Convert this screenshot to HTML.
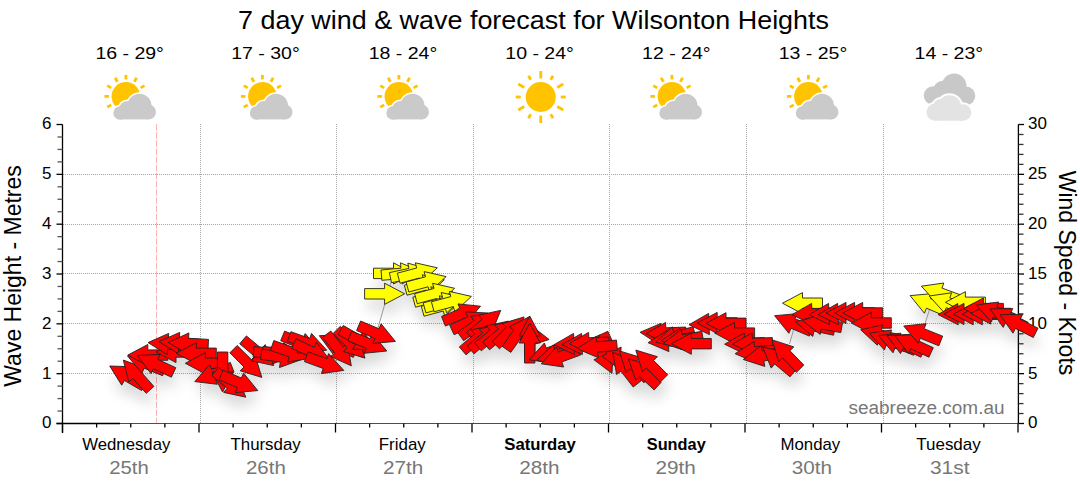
<!DOCTYPE html><html><head><meta charset="utf-8"><style>html,body{margin:0;padding:0;background:#fff;width:1080px;height:490px;overflow:hidden}svg{display:block}text{font-family:'Liberation Sans', sans-serif}</style></head><body>
<svg width="1080" height="490" viewBox="0 0 1080 490">
<defs><filter id="sh" x="-50%" y="-50%" width="200%" height="200%"><feGaussianBlur stdDeviation="7"/></filter></defs>
<text x="238" y="29" font-size="26" textLength="591" lengthAdjust="spacingAndGlyphs" fill="#000">7 day wind &amp; wave forecast for Wilsonton Heights</text>
<text x="129.65" y="59" font-size="16" text-anchor="middle" textLength="68.5" lengthAdjust="spacingAndGlyphs" fill="#000">16 - 29°</text>
<circle cx="125.9" cy="96.4" r="14.3" fill="#ffc300"/><line x1="125.90" y1="79.40" x2="125.90" y2="74.90" stroke="#ffc300" stroke-width="2.8"/><line x1="117.40" y1="81.68" x2="115.15" y2="77.78" stroke="#ffc300" stroke-width="2.8"/><line x1="134.40" y1="81.68" x2="136.65" y2="77.78" stroke="#ffc300" stroke-width="2.8"/><line x1="111.18" y1="87.90" x2="107.28" y2="85.65" stroke="#ffc300" stroke-width="2.8"/><line x1="140.62" y1="87.90" x2="144.52" y2="85.65" stroke="#ffc300" stroke-width="2.8"/><line x1="108.90" y1="96.40" x2="104.40" y2="96.40" stroke="#ffc300" stroke-width="2.8"/><line x1="111.18" y1="104.90" x2="107.28" y2="107.15" stroke="#ffc300" stroke-width="2.8"/>
<g fill="#fff" stroke="#fff" stroke-width="3"><circle cx="120.0" cy="113.0" r="6.7"/><circle cx="127.5" cy="109.4" r="8.5"/><circle cx="139.5" cy="105.7" r="12"/><circle cx="148.5" cy="112.0" r="7.5"/><rect x="120.0" y="109.0" width="28.5" height="10.400000000000006"/></g><g fill="#cacaca"><circle cx="120.0" cy="113.0" r="6.7"/><circle cx="127.5" cy="109.4" r="8.5"/><circle cx="139.5" cy="105.7" r="12"/><circle cx="148.5" cy="112.0" r="7.5"/><rect x="120.0" y="109.0" width="28.5" height="10.400000000000006"/></g>
<text x="265.5" y="59" font-size="16" text-anchor="middle" textLength="68.5" lengthAdjust="spacingAndGlyphs" fill="#000">17 - 30°</text>
<circle cx="262.4" cy="96.4" r="14.3" fill="#ffc300"/><line x1="262.40" y1="79.40" x2="262.40" y2="74.90" stroke="#ffc300" stroke-width="2.8"/><line x1="253.90" y1="81.68" x2="251.65" y2="77.78" stroke="#ffc300" stroke-width="2.8"/><line x1="270.90" y1="81.68" x2="273.15" y2="77.78" stroke="#ffc300" stroke-width="2.8"/><line x1="247.68" y1="87.90" x2="243.78" y2="85.65" stroke="#ffc300" stroke-width="2.8"/><line x1="277.12" y1="87.90" x2="281.02" y2="85.65" stroke="#ffc300" stroke-width="2.8"/><line x1="245.40" y1="96.40" x2="240.90" y2="96.40" stroke="#ffc300" stroke-width="2.8"/><line x1="247.68" y1="104.90" x2="243.78" y2="107.15" stroke="#ffc300" stroke-width="2.8"/>
<g fill="#fff" stroke="#fff" stroke-width="3"><circle cx="256.5" cy="113.0" r="6.7"/><circle cx="264.0" cy="109.4" r="8.5"/><circle cx="276.0" cy="105.7" r="12"/><circle cx="285.0" cy="112.0" r="7.5"/><rect x="256.5" y="109.0" width="28.5" height="10.400000000000006"/></g><g fill="#cacaca"><circle cx="256.5" cy="113.0" r="6.7"/><circle cx="264.0" cy="109.4" r="8.5"/><circle cx="276.0" cy="105.7" r="12"/><circle cx="285.0" cy="112.0" r="7.5"/><rect x="256.5" y="109.0" width="28.5" height="10.400000000000006"/></g>
<text x="403.0" y="59" font-size="16" text-anchor="middle" textLength="68.5" lengthAdjust="spacingAndGlyphs" fill="#000">18 - 24°</text>
<circle cx="398.9" cy="96.4" r="14.3" fill="#ffc300"/><line x1="398.90" y1="79.40" x2="398.90" y2="74.90" stroke="#ffc300" stroke-width="2.8"/><line x1="390.40" y1="81.68" x2="388.15" y2="77.78" stroke="#ffc300" stroke-width="2.8"/><line x1="407.40" y1="81.68" x2="409.65" y2="77.78" stroke="#ffc300" stroke-width="2.8"/><line x1="384.18" y1="87.90" x2="380.28" y2="85.65" stroke="#ffc300" stroke-width="2.8"/><line x1="413.62" y1="87.90" x2="417.52" y2="85.65" stroke="#ffc300" stroke-width="2.8"/><line x1="381.90" y1="96.40" x2="377.40" y2="96.40" stroke="#ffc300" stroke-width="2.8"/><line x1="384.18" y1="104.90" x2="380.28" y2="107.15" stroke="#ffc300" stroke-width="2.8"/>
<g fill="#fff" stroke="#fff" stroke-width="3"><circle cx="393.0" cy="113.0" r="6.7"/><circle cx="400.5" cy="109.4" r="8.5"/><circle cx="412.5" cy="105.7" r="12"/><circle cx="421.5" cy="112.0" r="7.5"/><rect x="393.0" y="109.0" width="28.5" height="10.400000000000006"/></g><g fill="#cacaca"><circle cx="393.0" cy="113.0" r="6.7"/><circle cx="400.5" cy="109.4" r="8.5"/><circle cx="412.5" cy="105.7" r="12"/><circle cx="421.5" cy="112.0" r="7.5"/><rect x="393.0" y="109.0" width="28.5" height="10.400000000000006"/></g>
<text x="539.5999999999999" y="59" font-size="16" text-anchor="middle" textLength="68.5" lengthAdjust="spacingAndGlyphs" fill="#000">10 - 24°</text>
<circle cx="540.75" cy="97" r="15" fill="#ffc300"/><line x1="560.75" y1="97.00" x2="565.75" y2="97.00" stroke="#ffc300" stroke-width="2.8"/><line x1="557.20" y1="87.50" x2="563.27" y2="84.00" stroke="#ffc300" stroke-width="2.8"/><line x1="550.75" y1="79.68" x2="553.00" y2="75.78" stroke="#ffc300" stroke-width="2.8"/><line x1="540.75" y1="78.50" x2="540.75" y2="71.00" stroke="#ffc300" stroke-width="2.8"/><line x1="530.75" y1="79.68" x2="528.50" y2="75.78" stroke="#ffc300" stroke-width="2.8"/><line x1="524.30" y1="87.50" x2="518.23" y2="84.00" stroke="#ffc300" stroke-width="2.8"/><line x1="520.75" y1="97.00" x2="515.75" y2="97.00" stroke="#ffc300" stroke-width="2.8"/><line x1="524.30" y1="106.50" x2="518.23" y2="110.00" stroke="#ffc300" stroke-width="2.8"/><line x1="530.75" y1="114.32" x2="528.50" y2="118.22" stroke="#ffc300" stroke-width="2.8"/><line x1="540.75" y1="115.50" x2="540.75" y2="123.00" stroke="#ffc300" stroke-width="2.8"/><line x1="550.75" y1="114.32" x2="553.00" y2="118.22" stroke="#ffc300" stroke-width="2.8"/><line x1="557.20" y1="106.50" x2="563.27" y2="110.00" stroke="#ffc300" stroke-width="2.8"/>
<text x="676.3" y="59" font-size="16" text-anchor="middle" textLength="68.5" lengthAdjust="spacingAndGlyphs" fill="#000">12 - 24°</text>
<circle cx="671.9" cy="96.4" r="14.3" fill="#ffc300"/><line x1="671.90" y1="79.40" x2="671.90" y2="74.90" stroke="#ffc300" stroke-width="2.8"/><line x1="663.40" y1="81.68" x2="661.15" y2="77.78" stroke="#ffc300" stroke-width="2.8"/><line x1="680.40" y1="81.68" x2="682.65" y2="77.78" stroke="#ffc300" stroke-width="2.8"/><line x1="657.18" y1="87.90" x2="653.28" y2="85.65" stroke="#ffc300" stroke-width="2.8"/><line x1="686.62" y1="87.90" x2="690.52" y2="85.65" stroke="#ffc300" stroke-width="2.8"/><line x1="654.90" y1="96.40" x2="650.40" y2="96.40" stroke="#ffc300" stroke-width="2.8"/><line x1="657.18" y1="104.90" x2="653.28" y2="107.15" stroke="#ffc300" stroke-width="2.8"/>
<g fill="#fff" stroke="#fff" stroke-width="3"><circle cx="666.0" cy="113.0" r="6.7"/><circle cx="673.5" cy="109.4" r="8.5"/><circle cx="685.5" cy="105.7" r="12"/><circle cx="694.5" cy="112.0" r="7.5"/><rect x="666.0" y="109.0" width="28.5" height="10.400000000000006"/></g><g fill="#cacaca"><circle cx="666.0" cy="113.0" r="6.7"/><circle cx="673.5" cy="109.4" r="8.5"/><circle cx="685.5" cy="105.7" r="12"/><circle cx="694.5" cy="112.0" r="7.5"/><rect x="666.0" y="109.0" width="28.5" height="10.400000000000006"/></g>
<text x="813.0" y="59" font-size="16" text-anchor="middle" textLength="68.5" lengthAdjust="spacingAndGlyphs" fill="#000">13 - 25°</text>
<circle cx="808.4" cy="96.4" r="14.3" fill="#ffc300"/><line x1="808.40" y1="79.40" x2="808.40" y2="74.90" stroke="#ffc300" stroke-width="2.8"/><line x1="799.90" y1="81.68" x2="797.65" y2="77.78" stroke="#ffc300" stroke-width="2.8"/><line x1="816.90" y1="81.68" x2="819.15" y2="77.78" stroke="#ffc300" stroke-width="2.8"/><line x1="793.68" y1="87.90" x2="789.78" y2="85.65" stroke="#ffc300" stroke-width="2.8"/><line x1="823.12" y1="87.90" x2="827.02" y2="85.65" stroke="#ffc300" stroke-width="2.8"/><line x1="791.40" y1="96.40" x2="786.90" y2="96.40" stroke="#ffc300" stroke-width="2.8"/><line x1="793.68" y1="104.90" x2="789.78" y2="107.15" stroke="#ffc300" stroke-width="2.8"/>
<g fill="#fff" stroke="#fff" stroke-width="3"><circle cx="802.5" cy="113.0" r="6.7"/><circle cx="810.0" cy="109.4" r="8.5"/><circle cx="822.0" cy="105.7" r="12"/><circle cx="831.0" cy="112.0" r="7.5"/><rect x="802.5" y="109.0" width="28.5" height="10.400000000000006"/></g><g fill="#cacaca"><circle cx="802.5" cy="113.0" r="6.7"/><circle cx="810.0" cy="109.4" r="8.5"/><circle cx="822.0" cy="105.7" r="12"/><circle cx="831.0" cy="112.0" r="7.5"/><rect x="802.5" y="109.0" width="28.5" height="10.400000000000006"/></g>
<text x="948.8" y="59" font-size="16" text-anchor="middle" textLength="68.5" lengthAdjust="spacingAndGlyphs" fill="#000">14 - 23°</text>
<g fill="#c8c8c8"><circle cx="933.0" cy="95.5" r="9.3"/><circle cx="943.0" cy="90.5" r="9.8"/><circle cx="954.1" cy="86" r="12.4"/><circle cx="966.0" cy="95.8" r="9.3"/><rect x="933.0" y="92" width="33.0" height="13.099999999999994"/></g>
<g fill="#fff" stroke="#fff" stroke-width="4"><circle cx="935.0" cy="112.2" r="8.5"/><circle cx="941.0" cy="107" r="8"/><circle cx="949.5" cy="107" r="11.8"/><circle cx="963.0" cy="112.5" r="8.3"/><rect x="935.0" y="110" width="28.0" height="10.700000000000003"/></g><g fill="#e3e3e3"><circle cx="935.0" cy="112.2" r="8.5"/><circle cx="941.0" cy="107" r="8"/><circle cx="949.5" cy="107" r="11.8"/><circle cx="963.0" cy="112.5" r="8.3"/><rect x="935.0" y="110" width="28.0" height="10.700000000000003"/></g>
<defs><pattern id="ph" x="0" y="0" width="2" height="2" patternUnits="userSpaceOnUse"><rect x="1" y="0" width="1" height="2" fill="#a6a6a6"/></pattern><pattern id="pv" x="0" y="0" width="2" height="2" patternUnits="userSpaceOnUse"><rect x="0" y="0" width="2" height="1" fill="#a6a6a6"/></pattern></defs>
<rect x="63" y="373" width="955" height="1" fill="url(#ph)" shape-rendering="crispEdges"/>
<rect x="63" y="323" width="955" height="1" fill="url(#ph)" shape-rendering="crispEdges"/>
<rect x="63" y="273" width="955" height="1" fill="url(#ph)" shape-rendering="crispEdges"/>
<rect x="63" y="224" width="955" height="1" fill="url(#ph)" shape-rendering="crispEdges"/>
<rect x="63" y="174" width="955" height="1" fill="url(#ph)" shape-rendering="crispEdges"/>
<rect x="200" y="124" width="1" height="299" fill="url(#pv)" shape-rendering="crispEdges"/>
<rect x="336" y="124" width="1" height="299" fill="url(#pv)" shape-rendering="crispEdges"/>
<rect x="473" y="124" width="1" height="299" fill="url(#pv)" shape-rendering="crispEdges"/>
<rect x="609" y="124" width="1" height="299" fill="url(#pv)" shape-rendering="crispEdges"/>
<rect x="746" y="124" width="1" height="299" fill="url(#pv)" shape-rendering="crispEdges"/>
<rect x="883" y="124" width="1" height="299" fill="url(#pv)" shape-rendering="crispEdges"/>
<line x1="156.5" y1="124" x2="156.5" y2="423" stroke="#ffb4b4" stroke-width="1" stroke-dasharray="6.5,1.66"/>
<text x="1004.5" y="413.5" font-size="18" text-anchor="end" textLength="156" lengthAdjust="spacingAndGlyphs" fill="#777">seabreeze.com.au</text>
<line x1="62.5" y1="124.5" x2="62.5" y2="433" stroke="#000" stroke-width="1.3"/>
<line x1="56.5" y1="423.5" x2="120" y2="423.5" stroke="#000" stroke-width="1.3"/>
<line x1="120" y1="423.5" x2="1018.4" y2="423.5" stroke="#1f5a88" stroke-width="1.1"/>
<line x1="1018.4" y1="124.5" x2="1018.4" y2="423.5" stroke="#000" stroke-width="1.3"/>
<line x1="56.5" y1="423.5" x2="62.5" y2="423.5" stroke="#000" stroke-width="1.3"/>
<text x="51.5" y="428.3" font-size="17" text-anchor="end" fill="#000">0</text>
<line x1="57.5" y1="411.0425" x2="62.5" y2="411.0425" stroke="#555" stroke-width="1.3"/>
<line x1="57.5" y1="398.585" x2="62.5" y2="398.585" stroke="#555" stroke-width="1.3"/>
<line x1="57.5" y1="386.1275" x2="62.5" y2="386.1275" stroke="#555" stroke-width="1.3"/>
<line x1="56.5" y1="373.67" x2="62.5" y2="373.67" stroke="#000" stroke-width="1.3"/>
<text x="51.5" y="378.5" font-size="17" text-anchor="end" fill="#000">1</text>
<line x1="57.5" y1="361.2125" x2="62.5" y2="361.2125" stroke="#555" stroke-width="1.3"/>
<line x1="57.5" y1="348.755" x2="62.5" y2="348.755" stroke="#555" stroke-width="1.3"/>
<line x1="57.5" y1="336.2975" x2="62.5" y2="336.2975" stroke="#555" stroke-width="1.3"/>
<line x1="56.5" y1="323.84000000000003" x2="62.5" y2="323.84000000000003" stroke="#000" stroke-width="1.3"/>
<text x="51.5" y="328.6" font-size="17" text-anchor="end" fill="#000">2</text>
<line x1="57.5" y1="311.3825" x2="62.5" y2="311.3825" stroke="#555" stroke-width="1.3"/>
<line x1="57.5" y1="298.925" x2="62.5" y2="298.925" stroke="#555" stroke-width="1.3"/>
<line x1="57.5" y1="286.4675" x2="62.5" y2="286.4675" stroke="#555" stroke-width="1.3"/>
<line x1="56.5" y1="274.01" x2="62.5" y2="274.01" stroke="#000" stroke-width="1.3"/>
<text x="51.5" y="278.8" font-size="17" text-anchor="end" fill="#000">3</text>
<line x1="57.5" y1="261.5525" x2="62.5" y2="261.5525" stroke="#555" stroke-width="1.3"/>
<line x1="57.5" y1="249.095" x2="62.5" y2="249.095" stroke="#555" stroke-width="1.3"/>
<line x1="57.5" y1="236.63750000000002" x2="62.5" y2="236.63750000000002" stroke="#555" stroke-width="1.3"/>
<line x1="56.5" y1="224.18" x2="62.5" y2="224.18" stroke="#000" stroke-width="1.3"/>
<text x="51.5" y="229.0" font-size="17" text-anchor="end" fill="#000">4</text>
<line x1="57.5" y1="211.7225" x2="62.5" y2="211.7225" stroke="#555" stroke-width="1.3"/>
<line x1="57.5" y1="199.26500000000001" x2="62.5" y2="199.26500000000001" stroke="#555" stroke-width="1.3"/>
<line x1="57.5" y1="186.8075" x2="62.5" y2="186.8075" stroke="#555" stroke-width="1.3"/>
<line x1="56.5" y1="174.35000000000002" x2="62.5" y2="174.35000000000002" stroke="#000" stroke-width="1.3"/>
<text x="51.5" y="179.2" font-size="17" text-anchor="end" fill="#000">5</text>
<line x1="57.5" y1="161.89249999999998" x2="62.5" y2="161.89249999999998" stroke="#555" stroke-width="1.3"/>
<line x1="57.5" y1="149.435" x2="62.5" y2="149.435" stroke="#555" stroke-width="1.3"/>
<line x1="57.5" y1="136.97750000000002" x2="62.5" y2="136.97750000000002" stroke="#555" stroke-width="1.3"/>
<line x1="56.5" y1="124.51999999999998" x2="62.5" y2="124.51999999999998" stroke="#000" stroke-width="1.3"/>
<text x="51.5" y="129.3" font-size="17" text-anchor="end" fill="#000">6</text>
<line x1="1018.4" y1="423.5" x2="1024" y2="423.5" stroke="#000" stroke-width="1.3"/>
<text x="1028" y="428.3" font-size="17" fill="#000">0</text>
<line x1="1018.4" y1="413.534" x2="1023.5" y2="413.534" stroke="#333" stroke-width="1.3"/>
<line x1="1018.4" y1="403.568" x2="1023.5" y2="403.568" stroke="#333" stroke-width="1.3"/>
<line x1="1018.4" y1="393.602" x2="1023.5" y2="393.602" stroke="#333" stroke-width="1.3"/>
<line x1="1018.4" y1="383.636" x2="1023.5" y2="383.636" stroke="#333" stroke-width="1.3"/>
<line x1="1018.4" y1="373.67" x2="1024" y2="373.67" stroke="#000" stroke-width="1.3"/>
<text x="1028" y="378.5" font-size="17" fill="#000">5</text>
<line x1="1018.4" y1="363.704" x2="1023.5" y2="363.704" stroke="#333" stroke-width="1.3"/>
<line x1="1018.4" y1="353.738" x2="1023.5" y2="353.738" stroke="#333" stroke-width="1.3"/>
<line x1="1018.4" y1="343.772" x2="1023.5" y2="343.772" stroke="#333" stroke-width="1.3"/>
<line x1="1018.4" y1="333.80600000000004" x2="1023.5" y2="333.80600000000004" stroke="#333" stroke-width="1.3"/>
<line x1="1018.4" y1="323.84000000000003" x2="1024" y2="323.84000000000003" stroke="#000" stroke-width="1.3"/>
<text x="1028" y="328.6" font-size="17" fill="#000">10</text>
<line x1="1018.4" y1="313.874" x2="1023.5" y2="313.874" stroke="#333" stroke-width="1.3"/>
<line x1="1018.4" y1="303.908" x2="1023.5" y2="303.908" stroke="#333" stroke-width="1.3"/>
<line x1="1018.4" y1="293.942" x2="1023.5" y2="293.942" stroke="#333" stroke-width="1.3"/>
<line x1="1018.4" y1="283.976" x2="1023.5" y2="283.976" stroke="#333" stroke-width="1.3"/>
<line x1="1018.4" y1="274.01" x2="1024" y2="274.01" stroke="#000" stroke-width="1.3"/>
<text x="1028" y="278.8" font-size="17" fill="#000">15</text>
<line x1="1018.4" y1="264.044" x2="1023.5" y2="264.044" stroke="#333" stroke-width="1.3"/>
<line x1="1018.4" y1="254.078" x2="1023.5" y2="254.078" stroke="#333" stroke-width="1.3"/>
<line x1="1018.4" y1="244.11200000000002" x2="1023.5" y2="244.11200000000002" stroke="#333" stroke-width="1.3"/>
<line x1="1018.4" y1="234.14600000000002" x2="1023.5" y2="234.14600000000002" stroke="#333" stroke-width="1.3"/>
<line x1="1018.4" y1="224.18" x2="1024" y2="224.18" stroke="#000" stroke-width="1.3"/>
<text x="1028" y="229.0" font-size="17" fill="#000">20</text>
<line x1="1018.4" y1="214.214" x2="1023.5" y2="214.214" stroke="#333" stroke-width="1.3"/>
<line x1="1018.4" y1="204.248" x2="1023.5" y2="204.248" stroke="#333" stroke-width="1.3"/>
<line x1="1018.4" y1="194.282" x2="1023.5" y2="194.282" stroke="#333" stroke-width="1.3"/>
<line x1="1018.4" y1="184.31599999999997" x2="1023.5" y2="184.31599999999997" stroke="#333" stroke-width="1.3"/>
<line x1="1018.4" y1="174.35" x2="1024" y2="174.35" stroke="#000" stroke-width="1.3"/>
<text x="1028" y="179.2" font-size="17" fill="#000">25</text>
<line x1="1018.4" y1="164.38400000000001" x2="1023.5" y2="164.38400000000001" stroke="#333" stroke-width="1.3"/>
<line x1="1018.4" y1="154.418" x2="1023.5" y2="154.418" stroke="#333" stroke-width="1.3"/>
<line x1="1018.4" y1="144.452" x2="1023.5" y2="144.452" stroke="#333" stroke-width="1.3"/>
<line x1="1018.4" y1="134.486" x2="1023.5" y2="134.486" stroke="#333" stroke-width="1.3"/>
<line x1="1018.4" y1="124.52000000000004" x2="1024" y2="124.52000000000004" stroke="#000" stroke-width="1.3"/>
<text x="1028" y="129.3" font-size="17" fill="#000">30</text>
<line x1="62.50" y1="423.5" x2="62.50" y2="432.5" stroke="#000" stroke-width="1.3"/>
<line x1="96.62" y1="423.5" x2="96.62" y2="427.5" stroke="#000" stroke-width="1.3"/>
<line x1="130.75" y1="423.5" x2="130.75" y2="427.5" stroke="#000" stroke-width="1.3"/>
<line x1="164.88" y1="423.5" x2="164.88" y2="427.5" stroke="#000" stroke-width="1.3"/>
<line x1="199.00" y1="423.5" x2="199.00" y2="432.5" stroke="#000" stroke-width="1.3"/>
<line x1="233.12" y1="423.5" x2="233.12" y2="427.5" stroke="#000" stroke-width="1.3"/>
<line x1="267.25" y1="423.5" x2="267.25" y2="427.5" stroke="#000" stroke-width="1.3"/>
<line x1="301.38" y1="423.5" x2="301.38" y2="427.5" stroke="#000" stroke-width="1.3"/>
<line x1="335.50" y1="423.5" x2="335.50" y2="432.5" stroke="#000" stroke-width="1.3"/>
<line x1="369.62" y1="423.5" x2="369.62" y2="427.5" stroke="#000" stroke-width="1.3"/>
<line x1="403.75" y1="423.5" x2="403.75" y2="427.5" stroke="#000" stroke-width="1.3"/>
<line x1="437.88" y1="423.5" x2="437.88" y2="427.5" stroke="#000" stroke-width="1.3"/>
<line x1="472.00" y1="423.5" x2="472.00" y2="432.5" stroke="#000" stroke-width="1.3"/>
<line x1="506.12" y1="423.5" x2="506.12" y2="427.5" stroke="#000" stroke-width="1.3"/>
<line x1="540.25" y1="423.5" x2="540.25" y2="427.5" stroke="#000" stroke-width="1.3"/>
<line x1="574.38" y1="423.5" x2="574.38" y2="427.5" stroke="#000" stroke-width="1.3"/>
<line x1="608.50" y1="423.5" x2="608.50" y2="432.5" stroke="#000" stroke-width="1.3"/>
<line x1="642.62" y1="423.5" x2="642.62" y2="427.5" stroke="#000" stroke-width="1.3"/>
<line x1="676.75" y1="423.5" x2="676.75" y2="427.5" stroke="#000" stroke-width="1.3"/>
<line x1="710.88" y1="423.5" x2="710.88" y2="427.5" stroke="#000" stroke-width="1.3"/>
<line x1="745.00" y1="423.5" x2="745.00" y2="432.5" stroke="#000" stroke-width="1.3"/>
<line x1="779.12" y1="423.5" x2="779.12" y2="427.5" stroke="#000" stroke-width="1.3"/>
<line x1="813.25" y1="423.5" x2="813.25" y2="427.5" stroke="#000" stroke-width="1.3"/>
<line x1="847.38" y1="423.5" x2="847.38" y2="427.5" stroke="#000" stroke-width="1.3"/>
<line x1="881.50" y1="423.5" x2="881.50" y2="432.5" stroke="#000" stroke-width="1.3"/>
<line x1="915.62" y1="423.5" x2="915.62" y2="427.5" stroke="#000" stroke-width="1.3"/>
<line x1="949.75" y1="423.5" x2="949.75" y2="427.5" stroke="#000" stroke-width="1.3"/>
<line x1="983.88" y1="423.5" x2="983.88" y2="427.5" stroke="#000" stroke-width="1.3"/>
<line x1="1018.00" y1="423.5" x2="1018.00" y2="432.5" stroke="#000" stroke-width="1.3"/>
<g filter="url(#sh)" fill="#000" opacity="0.15"><polygon points="143.7,401.5 126.4,391.5 123.7,396.2 111.7,377.0 134.3,377.8 131.6,382.5 148.9,392.5"/><polygon points="148.2,404.3 134.8,389.5 130.8,393.1 125.3,371.1 146.6,378.9 142.6,382.5 155.9,397.4"/><polygon points="164.6,386.7 146.1,379.2 144.0,384.2 129.5,366.9 152.0,364.6 149.9,369.6 168.5,377.1"/><polygon points="169.8,371.3 149.8,371.3 149.8,376.7 129.8,366.1 149.8,355.5 149.8,360.9 169.8,360.9"/><polygon points="173.4,388.2 155.3,379.7 153.0,384.6 139.4,366.5 162.0,365.4 159.7,370.3 177.8,378.7"/><polygon points="198.0,368.2 178.0,368.2 178.0,373.6 158.0,363.0 178.0,352.4 178.0,357.8 198.0,357.8"/><polygon points="189.6,361.6 169.6,360.2 169.3,365.6 150.0,353.6 170.7,344.4 170.4,349.8 190.3,351.2"/><polygon points="200.6,360.6 180.6,359.2 180.3,364.6 161.0,352.6 181.7,343.4 181.4,348.8 201.3,350.2"/><polygon points="210.0,360.7 190.0,359.7 189.7,365.1 170.3,353.5 190.9,343.9 190.6,349.3 210.5,350.4"/><polygon points="218.3,369.5 198.3,369.5 198.3,374.9 178.3,364.3 198.3,353.7 198.3,359.1 218.3,359.1"/><polygon points="227.3,379.5 207.3,379.5 207.3,384.9 187.3,374.3 207.3,363.7 207.3,369.1 227.3,369.1"/><polygon points="236.0,383.1 217.4,390.3 219.3,395.3 196.8,392.6 211.7,375.5 213.6,380.5 232.3,373.4"/><polygon points="229.8,363.0 229.8,383.0 235.2,383.0 224.6,403.0 214.0,383.0 219.4,383.0 219.4,363.0"/><polygon points="220.5,378.5 235.8,391.3 239.3,387.2 247.8,408.2 225.7,403.4 229.2,399.3 213.8,386.4"/><polygon points="225.0,381.2 243.4,389.0 245.5,384.0 259.8,401.6 237.3,403.6 239.4,398.6 221.0,390.8"/><polygon points="239.2,356.5 253.4,370.6 257.2,366.8 263.8,388.4 242.2,381.8 246.0,378.0 231.9,363.8"/><polygon points="248.4,346.9 263.7,359.7 267.2,355.6 275.7,376.6 253.6,371.8 257.1,367.7 241.7,354.8"/><polygon points="256.0,357.5 276.0,359.2 276.4,353.8 295.4,366.1 274.6,375.0 275.0,369.6 255.1,367.8"/><polygon points="265.1,357.5 285.1,359.2 285.5,353.8 304.5,366.1 283.7,375.0 284.1,369.6 264.2,367.8"/><polygon points="263.9,360.1 283.7,362.9 284.5,357.5 302.8,370.8 281.5,378.5 282.3,373.1 262.5,370.4"/><polygon points="275.8,351.6 294.7,358.1 296.5,353.0 311.9,369.5 289.5,373.0 291.3,367.9 272.4,361.4"/><polygon points="286.6,342.1 305.1,349.6 307.2,344.6 321.7,361.9 299.2,364.2 301.3,359.2 282.7,351.7"/><polygon points="292.9,342.7 311.7,349.5 313.5,344.4 328.7,361.2 306.3,364.4 308.1,359.3 289.3,352.4"/><polygon points="298.1,349.8 316.2,358.3 318.5,353.4 332.1,371.5 309.5,372.6 311.8,367.7 293.7,359.3"/><polygon points="355.3,368.4 337.2,359.9 334.9,364.8 321.3,346.7 343.9,345.6 341.6,350.5 359.7,358.9"/><polygon points="364.5,368.4 346.4,359.9 344.1,364.8 330.5,346.7 353.1,345.6 350.8,350.5 368.9,358.9"/><polygon points="310.0,362.9 328.8,369.7 330.6,364.6 345.8,381.4 323.4,384.6 325.2,379.5 306.4,372.6"/><polygon points="332.8,342.0 345.1,357.8 349.4,354.5 353.3,376.8 332.6,367.5 336.9,364.2 324.6,348.4"/><polygon points="342.4,337.2 356.6,351.3 360.4,347.5 367.0,369.1 345.4,362.5 349.2,358.7 335.1,344.5"/><polygon points="345.3,336.5 362.6,346.5 365.3,341.8 377.3,361.0 354.7,360.2 357.4,355.5 340.1,345.5"/><polygon points="353.7,342.2 372.2,349.7 374.3,344.7 388.8,362.0 366.3,364.3 368.4,359.3 349.8,351.8"/><polygon points="362.6,332.0 381.0,339.8 383.1,334.8 397.4,352.4 374.9,354.4 377.0,349.4 358.6,341.6"/><polygon points="366.6,299.6 386.6,299.6 386.6,294.2 406.6,304.8 386.6,315.4 386.6,310.0 366.6,310.0"/><polygon points="375.5,279.2 395.5,279.2 395.5,273.8 415.5,284.4 395.5,295.0 395.5,289.6 375.5,289.6"/><polygon points="383.0,281.0 402.9,279.2 402.5,273.8 423.3,282.7 404.3,295.0 403.9,289.6 383.9,291.3"/><polygon points="391.4,283.6 410.9,279.4 409.8,274.1 431.6,280.3 414.2,294.9 413.1,289.6 393.5,293.7"/><polygon points="399.3,284.2 418.7,279.0 417.3,273.8 439.3,278.8 422.7,294.2 421.3,289.0 402.0,294.2"/><polygon points="406.3,296.2 425.7,291.0 424.3,285.8 446.3,290.8 429.7,306.2 428.3,301.0 409.0,306.2"/><polygon points="408.1,293.0 427.5,287.8 426.1,282.6 448.1,287.6 431.5,303.0 430.1,297.8 410.8,303.0"/><polygon points="414.8,308.2 434.2,303.0 432.8,297.8 454.8,302.8 438.2,318.2 436.8,313.0 417.5,318.2"/><polygon points="416.6,304.7 436.0,299.5 434.6,294.3 456.6,299.3 440.0,314.7 438.6,309.5 419.3,314.7"/><polygon points="423.3,317.2 442.7,312.0 441.3,306.8 463.3,311.8 446.7,327.2 445.3,322.0 426.0,327.2"/><polygon points="425.2,313.9 444.6,308.7 443.2,303.5 465.2,308.5 448.6,323.9 447.2,318.7 427.9,323.9"/><polygon points="433.4,312.8 452.8,307.6 451.4,302.4 473.4,307.4 456.8,322.8 455.4,317.6 436.1,322.8"/><polygon points="443.5,327.4 462.1,319.9 460.0,314.9 482.5,317.2 468.0,334.5 465.9,329.5 447.4,337.0"/><polygon points="451.7,336.2 469.8,327.8 467.5,322.9 490.1,324.0 476.5,342.1 474.2,337.2 456.1,345.7"/><polygon points="459.6,343.2 476.0,331.7 472.9,327.3 495.4,324.5 485.1,344.7 482.0,340.3 465.6,351.7"/><polygon points="468.7,343.2 484.1,330.3 480.6,326.2 502.7,321.4 494.2,342.4 490.7,338.3 475.4,351.1"/><polygon points="461.3,357.9 476.7,345.0 473.2,340.9 495.3,336.1 486.8,357.1 483.3,353.0 468.0,365.8"/><polygon points="469.3,356.9 484.7,344.0 481.2,339.9 503.3,335.1 494.8,356.1 491.3,352.0 476.0,364.8"/><polygon points="512.6,338.4 532.3,341.9 533.2,336.6 551.1,350.5 529.6,357.4 530.5,352.1 510.8,348.6"/><polygon points="476.6,353.9 492.0,341.0 488.5,336.9 510.6,332.1 502.1,353.1 498.6,349.0 483.3,361.8"/><polygon points="484.8,352.9 500.2,340.0 496.7,335.9 518.8,331.1 510.3,352.1 506.8,348.0 491.5,360.8"/><polygon points="494.2,352.5 508.3,338.3 504.5,334.5 526.1,327.9 519.5,349.5 515.7,345.7 501.5,359.8"/><polygon points="504.3,357.4 515.7,341.0 511.3,337.9 531.5,327.6 528.7,350.1 524.3,347.0 512.8,363.4"/><polygon points="526.5,367.0 526.5,347.0 521.1,347.0 531.7,327.0 542.3,347.0 536.9,347.0 536.9,367.0"/><polygon points="526.5,374.0 526.5,354.0 521.1,354.0 531.7,334.0 542.3,354.0 536.9,354.0 536.9,374.0"/><polygon points="570.6,362.0 551.8,368.9 553.6,374.0 531.2,370.8 546.4,354.0 548.2,359.1 567.0,352.3"/><polygon points="578.7,365.8 559.3,371.0 560.7,376.2 538.7,371.2 555.3,355.8 556.7,361.0 576.0,355.8"/><polygon points="582.6,366.0 563.8,372.9 565.6,378.0 543.2,374.8 558.4,358.0 560.2,363.1 579.0,356.3"/><polygon points="601.8,345.9 610.2,364.0 615.1,361.7 614.0,384.3 595.9,370.7 600.8,368.4 592.3,350.3"/><polygon points="609.8,342.3 618.2,360.4 623.1,358.1 622.0,380.7 603.9,367.1 608.8,364.8 600.3,346.7"/><polygon points="596.2,359.5 576.2,360.2 576.4,365.6 556.0,355.7 575.6,344.4 575.8,349.8 595.8,349.1"/><polygon points="604.2,359.5 584.2,360.2 584.4,365.6 564.0,355.7 583.6,344.4 583.8,349.8 603.8,349.1"/><polygon points="611.2,358.5 591.2,359.2 591.4,364.6 571.0,354.7 590.6,343.4 590.8,348.8 610.8,348.1"/><polygon points="619.4,361.4 599.5,363.2 599.9,368.6 579.1,359.7 598.1,347.4 598.5,352.8 618.5,351.1"/><polygon points="635.2,398.0 622.9,382.2 618.6,385.5 614.7,363.2 635.4,372.5 631.1,375.8 643.4,391.6"/><polygon points="646.0,393.8 631.8,379.7 628.0,383.5 621.4,361.9 643.0,368.5 639.2,372.3 653.3,386.5"/><polygon points="656.1,400.9 641.5,387.3 637.8,391.3 630.4,369.9 652.2,375.7 648.5,379.7 663.2,393.3"/><polygon points="662.4,393.0 648.2,378.9 644.4,382.7 637.8,361.1 659.4,367.7 655.6,371.5 669.7,385.7"/><polygon points="681.5,351.9 661.5,350.2 661.1,355.6 642.1,343.3 662.9,334.4 662.5,339.8 682.4,341.6"/><polygon points="688.2,348.5 668.2,349.2 668.4,354.6 648.0,344.7 667.6,333.4 667.8,338.8 687.8,338.1"/><polygon points="690.4,355.4 670.5,357.2 670.9,362.6 650.1,353.7 669.1,341.4 669.5,346.8 689.5,345.1"/><polygon points="697.7,347.8 678.3,353.0 679.7,358.2 657.7,353.2 674.3,337.8 675.7,343.0 695.0,337.8"/><polygon points="703.4,353.4 683.5,355.2 683.9,360.6 663.1,351.7 682.1,339.4 682.5,344.8 702.5,343.1"/><polygon points="705.6,352.6 685.9,356.1 686.8,361.4 665.3,354.5 683.2,340.6 684.1,345.9 703.8,342.4"/><polygon points="713.3,359.9 693.3,359.9 693.3,365.3 673.3,354.7 693.3,344.1 693.3,349.5 713.3,349.5"/><polygon points="731.2,339.5 711.2,340.2 711.4,345.6 691.0,335.7 710.6,324.4 710.8,329.8 730.8,329.1"/><polygon points="739.2,339.2 719.2,339.2 719.2,344.6 699.2,334.0 719.2,323.4 719.2,328.8 739.2,328.8"/><polygon points="748.0,339.5 728.0,339.5 728.0,344.9 708.0,334.3 728.0,323.7 728.0,329.1 748.0,329.1"/><polygon points="756.6,349.3 736.6,349.3 736.6,354.7 716.6,344.1 736.6,333.5 736.6,338.9 756.6,338.9"/><polygon points="766.8,359.0 746.8,359.7 747.0,365.1 726.6,355.2 746.2,343.9 746.4,349.3 766.4,348.6"/><polygon points="774.7,359.0 754.7,359.7 754.9,365.1 734.5,355.2 754.1,343.9 754.3,349.3 774.3,348.6"/><polygon points="777.4,366.4 757.5,368.2 757.9,373.6 737.1,364.7 756.1,352.4 756.5,357.8 776.5,356.1"/><polygon points="785.6,368.6 765.9,372.1 766.8,377.4 745.3,370.5 763.2,356.6 764.1,361.9 783.8,358.4"/><polygon points="792.0,387.8 776.7,375.0 773.2,379.1 764.7,358.1 786.8,362.9 783.3,367.0 798.7,379.9"/><polygon points="798.4,383.3 784.5,368.9 780.6,372.7 774.3,350.9 795.8,357.9 791.9,361.7 805.8,376.1"/><polygon points="824.5,319.4 804.5,319.4 804.5,324.8 784.5,314.2 804.5,303.6 804.5,309.0 824.5,309.0"/><polygon points="811.4,347.1 793.0,339.3 790.9,344.3 776.6,326.7 799.1,324.7 797.0,329.7 815.4,337.5"/><polygon points="834.2,329.5 814.2,330.2 814.4,335.6 794.0,325.7 813.6,314.4 813.8,319.8 833.8,319.1"/><polygon points="835.5,346.2 815.9,342.1 814.8,347.4 797.4,332.8 819.2,326.6 818.1,331.9 837.6,336.1"/><polygon points="842.8,343.6 823.1,340.1 822.2,345.4 804.3,331.5 825.8,324.6 824.9,329.9 844.6,333.4"/><polygon points="851.2,329.5 831.2,330.2 831.4,335.6 811.0,325.7 830.6,314.4 830.8,319.8 850.8,319.1"/><polygon points="860.2,329.5 840.2,330.2 840.4,335.6 820.0,325.7 839.6,314.4 839.8,319.8 859.8,319.1"/><polygon points="868.0,329.2 848.0,329.2 848.0,334.6 828.0,324.0 848.0,313.4 848.0,318.8 868.0,318.8"/><polygon points="876.6,329.2 856.6,329.2 856.6,334.6 836.6,324.0 856.6,313.4 856.6,318.8 876.6,318.8"/><polygon points="884.7,329.2 864.7,329.2 864.7,334.6 844.7,324.0 864.7,313.4 864.7,318.8 884.7,318.8"/><polygon points="893.3,339.2 873.3,339.2 873.3,344.6 853.3,334.0 873.3,323.4 873.3,328.8 893.3,328.8"/><polygon points="900.0,356.2 880.7,351.0 879.3,356.2 862.7,340.8 884.7,335.8 883.3,341.0 902.7,346.2"/><polygon points="907.0,362.7 888.2,355.9 886.4,361.0 871.2,344.2 893.6,341.0 891.8,346.1 910.6,353.0"/><polygon points="915.6,366.3 897.1,358.8 895.0,363.8 880.5,346.5 903.0,344.2 900.9,349.2 919.5,356.7"/><polygon points="922.9,368.2 904.8,359.7 902.5,364.6 888.9,346.5 911.5,345.4 909.2,350.3 927.3,358.7"/><polygon points="930.9,368.2 912.8,359.7 910.5,364.6 896.9,346.5 919.5,345.4 917.2,350.3 935.3,358.7"/><polygon points="940.8,356.8 922.3,349.3 920.2,354.3 905.7,337.0 928.2,334.7 926.1,339.7 944.7,347.2"/><polygon points="946.9,327.0 928.5,319.2 926.4,324.2 912.1,306.6 934.6,304.6 932.5,309.6 950.9,317.4"/><polygon points="959.2,315.7 940.4,308.9 938.6,314.0 923.4,297.2 945.8,294.0 944.0,299.1 962.8,306.0"/><polygon points="967.0,325.5 948.2,318.7 946.4,323.8 931.2,307.0 953.6,303.8 951.8,308.9 970.6,315.8"/><polygon points="987.4,318.5 967.4,318.5 967.4,323.9 947.4,313.3 967.4,302.7 967.4,308.1 987.4,308.1"/><polygon points="980.1,330.1 960.1,330.4 960.2,335.8 940.0,325.5 959.8,314.6 959.9,320.0 979.9,319.7"/><polygon points="986.0,330.2 966.0,330.2 966.0,335.6 946.0,325.0 966.0,314.4 966.0,319.8 986.0,319.8"/><polygon points="995.2,330.4 975.2,330.4 975.2,335.8 955.2,325.2 975.2,314.6 975.2,320.0 995.2,320.0"/><polygon points="1004.3,330.4 984.3,330.4 984.3,335.8 964.3,325.2 984.3,314.6 984.3,320.0 1004.3,320.0"/><polygon points="1005.4,324.8 985.4,324.8 985.4,330.2 965.4,319.6 985.4,309.0 985.4,314.4 1005.4,314.4"/><polygon points="1012.7,329.7 992.7,329.7 992.7,335.1 972.7,324.5 992.7,313.9 992.7,319.3 1012.7,319.3"/><polygon points="1014.0,334.7 995.2,327.9 993.4,333.0 978.2,316.2 1000.6,313.0 998.8,318.1 1017.6,325.0"/><polygon points="1025.5,342.7 1007.6,333.6 1005.2,338.4 992.2,319.9 1014.8,319.6 1012.4,324.4 1030.2,333.4"/><polygon points="1035.3,348.5 1017.4,339.4 1015.0,344.2 1002.0,325.7 1024.6,325.4 1022.2,330.2 1040.0,339.2"/></g><polyline points="377.8,328.6 392.5,277.2" fill="none" stroke="#999" stroke-width="1"/><polyline points="789.5,344 794,328.3" fill="none" stroke="#999" stroke-width="1"/><polyline points="925.2,323.3 929.5,309.3" fill="none" stroke="#999" stroke-width="1"/><g stroke="#222" stroke-width="0.9" stroke-linejoin="miter"><polygon points="141.7,390.5 124.4,380.5 121.7,385.2 109.7,366.0 132.3,366.8 129.6,371.5 146.9,381.5" fill="#ff0000"/><polygon points="146.2,393.3 132.8,378.5 128.8,382.1 123.3,360.1 144.6,367.9 140.6,371.5 153.9,386.4" fill="#ff0000"/><polygon points="162.6,375.7 144.1,368.2 142.0,373.2 127.5,355.9 150.0,353.6 147.9,358.6 166.5,366.1" fill="#ff0000"/><polygon points="167.8,360.3 147.8,360.3 147.8,365.7 127.8,355.1 147.8,344.5 147.8,349.9 167.8,349.9" fill="#ff0000"/><polygon points="171.4,377.2 153.3,368.7 151.0,373.6 137.4,355.5 160.0,354.4 157.7,359.3 175.8,367.7" fill="#ff0000"/><polygon points="196.0,357.2 176.0,357.2 176.0,362.6 156.0,352.0 176.0,341.4 176.0,346.8 196.0,346.8" fill="#ff0000"/><polygon points="187.6,350.6 167.6,349.2 167.3,354.6 148.0,342.6 168.7,333.4 168.4,338.8 188.3,340.2" fill="#ff0000"/><polygon points="198.6,349.6 178.6,348.2 178.3,353.6 159.0,341.6 179.7,332.4 179.4,337.8 199.3,339.2" fill="#ff0000"/><polygon points="208.0,349.7 188.0,348.7 187.7,354.1 168.3,342.5 188.9,332.9 188.6,338.3 208.5,339.4" fill="#ff0000"/><polygon points="216.3,358.5 196.3,358.5 196.3,363.9 176.3,353.3 196.3,342.7 196.3,348.1 216.3,348.1" fill="#ff0000"/><polygon points="225.3,368.5 205.3,368.5 205.3,373.9 185.3,363.3 205.3,352.7 205.3,358.1 225.3,358.1" fill="#ff0000"/><polygon points="234.0,372.1 215.4,379.3 217.3,384.3 194.8,381.6 209.7,364.5 211.6,369.5 230.3,362.4" fill="#ff0000"/><polygon points="227.8,352.0 227.8,372.0 233.2,372.0 222.6,392.0 212.0,372.0 217.4,372.0 217.4,352.0" fill="#ff0000"/><polygon points="218.5,367.5 233.8,380.3 237.3,376.2 245.8,397.2 223.7,392.4 227.2,388.3 211.8,375.4" fill="#ff0000"/><polygon points="223.0,370.2 241.4,378.0 243.5,373.0 257.8,390.6 235.3,392.6 237.4,387.6 219.0,379.8" fill="#ff0000"/><polygon points="237.2,345.5 251.4,359.6 255.2,355.8 261.8,377.4 240.2,370.8 244.0,367.0 229.9,352.8" fill="#ff0000"/><polygon points="246.4,335.9 261.7,348.7 265.2,344.6 273.7,365.6 251.6,360.8 255.1,356.7 239.7,343.8" fill="#ff0000"/><polygon points="254.0,346.5 274.0,348.2 274.4,342.8 293.4,355.1 272.6,364.0 273.0,358.6 253.1,356.8" fill="#ff0000"/><polygon points="263.1,346.5 283.1,348.2 283.5,342.8 302.5,355.1 281.7,364.0 282.1,358.6 262.2,356.8" fill="#ff0000"/><polygon points="261.9,349.1 281.7,351.9 282.5,346.5 300.8,359.8 279.5,367.5 280.3,362.1 260.5,359.4" fill="#ff0000"/><polygon points="273.8,340.6 292.7,347.1 294.5,342.0 309.9,358.5 287.5,362.0 289.3,356.9 270.4,350.4" fill="#ff0000"/><polygon points="284.6,331.1 303.1,338.6 305.2,333.6 319.7,350.9 297.2,353.2 299.3,348.2 280.7,340.7" fill="#ff0000"/><polygon points="290.9,331.7 309.7,338.5 311.5,333.4 326.7,350.2 304.3,353.4 306.1,348.3 287.3,341.4" fill="#ff0000"/><polygon points="296.1,338.8 314.2,347.3 316.5,342.4 330.1,360.5 307.5,361.6 309.8,356.7 291.7,348.3" fill="#ff0000"/><polygon points="353.3,357.4 335.2,348.9 332.9,353.8 319.3,335.7 341.9,334.6 339.6,339.5 357.7,347.9" fill="#ff0000"/><polygon points="362.5,357.4 344.4,348.9 342.1,353.8 328.5,335.7 351.1,334.6 348.8,339.5 366.9,347.9" fill="#ff0000"/><polygon points="308.0,351.9 326.8,358.7 328.6,353.6 343.8,370.4 321.4,373.6 323.2,368.5 304.4,361.6" fill="#ff0000"/><polygon points="330.8,331.0 343.1,346.8 347.4,343.5 351.3,365.8 330.6,356.5 334.9,353.2 322.6,337.4" fill="#ff0000"/><polygon points="340.4,326.2 354.6,340.3 358.4,336.5 365.0,358.1 343.4,351.5 347.2,347.7 333.1,333.5" fill="#ff0000"/><polygon points="343.3,325.5 360.6,335.5 363.3,330.8 375.3,350.0 352.7,349.2 355.4,344.5 338.1,334.5" fill="#ff0000"/><polygon points="351.7,331.2 370.2,338.7 372.3,333.7 386.8,351.0 364.3,353.3 366.4,348.3 347.8,340.8" fill="#ff0000"/><polygon points="360.6,321.0 379.0,328.8 381.1,323.8 395.4,341.4 372.9,343.4 375.0,338.4 356.6,330.6" fill="#ff0000"/><polygon points="364.6,288.6 384.6,288.6 384.6,283.2 404.6,293.8 384.6,304.4 384.6,299.0 364.6,299.0" fill="#ffff00"/><polygon points="373.5,268.2 393.5,268.2 393.5,262.8 413.5,273.4 393.5,284.0 393.5,278.6 373.5,278.6" fill="#ffff00"/><polygon points="381.0,270.0 400.9,268.2 400.5,262.8 421.3,271.7 402.3,284.0 401.9,278.6 381.9,280.3" fill="#ffff00"/><polygon points="389.4,272.6 408.9,268.4 407.8,263.1 429.6,269.3 412.2,283.9 411.1,278.6 391.5,282.7" fill="#ffff00"/><polygon points="397.3,273.2 416.7,268.0 415.3,262.8 437.3,267.8 420.7,283.2 419.3,278.0 400.0,283.2" fill="#ffff00"/><polygon points="404.3,285.2 423.7,280.0 422.3,274.8 444.3,279.8 427.7,295.2 426.3,290.0 407.0,295.2" fill="#ffff00"/><polygon points="406.1,282.0 425.5,276.8 424.1,271.6 446.1,276.6 429.5,292.0 428.1,286.8 408.8,292.0" fill="#ffff00"/><polygon points="412.8,297.2 432.2,292.0 430.8,286.8 452.8,291.8 436.2,307.2 434.8,302.0 415.5,307.2" fill="#ffff00"/><polygon points="414.6,293.7 434.0,288.5 432.6,283.3 454.6,288.3 438.0,303.7 436.6,298.5 417.3,303.7" fill="#ffff00"/><polygon points="421.3,306.2 440.7,301.0 439.3,295.8 461.3,300.8 444.7,316.2 443.3,311.0 424.0,316.2" fill="#ffff00"/><polygon points="423.2,302.9 442.6,297.7 441.2,292.5 463.2,297.5 446.6,312.9 445.2,307.7 425.9,312.9" fill="#ffff00"/><polygon points="431.4,301.8 450.8,296.6 449.4,291.4 471.4,296.4 454.8,311.8 453.4,306.6 434.1,311.8" fill="#ffff00"/><polygon points="441.5,316.4 460.1,308.9 458.0,303.9 480.5,306.2 466.0,323.5 463.9,318.5 445.4,326.0" fill="#ff0000"/><polygon points="449.7,325.2 467.8,316.8 465.5,311.9 488.1,313.0 474.5,331.1 472.2,326.2 454.1,334.7" fill="#ff0000"/><polygon points="457.6,332.2 474.0,320.7 470.9,316.3 493.4,313.5 483.1,333.7 480.0,329.3 463.6,340.7" fill="#ff0000"/><polygon points="466.7,332.2 482.1,319.3 478.6,315.2 500.7,310.4 492.2,331.4 488.7,327.3 473.4,340.1" fill="#ff0000"/><polygon points="459.3,346.9 474.7,334.0 471.2,329.9 493.3,325.1 484.8,346.1 481.3,342.0 466.0,354.8" fill="#ff0000"/><polygon points="467.3,345.9 482.7,333.0 479.2,328.9 501.3,324.1 492.8,345.1 489.3,341.0 474.0,353.8" fill="#ff0000"/><polygon points="510.6,327.4 530.3,330.9 531.2,325.6 549.1,339.5 527.6,346.4 528.5,341.1 508.8,337.6" fill="#ff0000"/><polygon points="474.6,342.9 490.0,330.0 486.5,325.9 508.6,321.1 500.1,342.1 496.6,338.0 481.3,350.8" fill="#ff0000"/><polygon points="482.8,341.9 498.2,329.0 494.7,324.9 516.8,320.1 508.3,341.1 504.8,337.0 489.5,349.8" fill="#ff0000"/><polygon points="492.2,341.5 506.3,327.3 502.5,323.5 524.1,316.9 517.5,338.5 513.7,334.7 499.5,348.8" fill="#ff0000"/><polygon points="502.3,346.4 513.7,330.0 509.3,326.9 529.5,316.6 526.7,339.1 522.3,336.0 510.8,352.4" fill="#ff0000"/><polygon points="524.5,356.0 524.5,336.0 519.1,336.0 529.7,316.0 540.3,336.0 534.9,336.0 534.9,356.0" fill="#ff0000"/><polygon points="524.5,363.0 524.5,343.0 519.1,343.0 529.7,323.0 540.3,343.0 534.9,343.0 534.9,363.0" fill="#ff0000"/><polygon points="568.6,351.0 549.8,357.9 551.6,363.0 529.2,359.8 544.4,343.0 546.2,348.1 565.0,341.3" fill="#ff0000"/><polygon points="576.7,354.8 557.3,360.0 558.7,365.2 536.7,360.2 553.3,344.8 554.7,350.0 574.0,344.8" fill="#ff0000"/><polygon points="580.6,355.0 561.8,361.9 563.6,367.0 541.2,363.8 556.4,347.0 558.2,352.1 577.0,345.3" fill="#ff0000"/><polygon points="599.8,334.9 608.2,353.0 613.1,350.7 612.0,373.3 593.9,359.7 598.8,357.4 590.3,339.3" fill="#ff0000"/><polygon points="607.8,331.3 616.2,349.4 621.1,347.1 620.0,369.7 601.9,356.1 606.8,353.8 598.3,335.7" fill="#ff0000"/><polygon points="594.2,348.5 574.2,349.2 574.4,354.6 554.0,344.7 573.6,333.4 573.8,338.8 593.8,338.1" fill="#ff0000"/><polygon points="602.2,348.5 582.2,349.2 582.4,354.6 562.0,344.7 581.6,333.4 581.8,338.8 601.8,338.1" fill="#ff0000"/><polygon points="609.2,347.5 589.2,348.2 589.4,353.6 569.0,343.7 588.6,332.4 588.8,337.8 608.8,337.1" fill="#ff0000"/><polygon points="617.4,350.4 597.5,352.2 597.9,357.6 577.1,348.7 596.1,336.4 596.5,341.8 616.5,340.1" fill="#ff0000"/><polygon points="633.2,387.0 620.9,371.2 616.6,374.5 612.7,352.2 633.4,361.5 629.1,364.8 641.4,380.6" fill="#ff0000"/><polygon points="644.0,382.8 629.8,368.7 626.0,372.5 619.4,350.9 641.0,357.5 637.2,361.3 651.3,375.5" fill="#ff0000"/><polygon points="654.1,389.9 639.5,376.3 635.8,380.3 628.4,358.9 650.2,364.7 646.5,368.7 661.2,382.3" fill="#ff0000"/><polygon points="660.4,382.0 646.2,367.9 642.4,371.7 635.8,350.1 657.4,356.7 653.6,360.5 667.7,374.7" fill="#ff0000"/><polygon points="679.5,340.9 659.5,339.2 659.1,344.6 640.1,332.3 660.9,323.4 660.5,328.8 680.4,330.6" fill="#ff0000"/><polygon points="686.2,337.5 666.2,338.2 666.4,343.6 646.0,333.7 665.6,322.4 665.8,327.8 685.8,327.1" fill="#ff0000"/><polygon points="688.4,344.4 668.5,346.2 668.9,351.6 648.1,342.7 667.1,330.4 667.5,335.8 687.5,334.1" fill="#ff0000"/><polygon points="695.7,336.8 676.3,342.0 677.7,347.2 655.7,342.2 672.3,326.8 673.7,332.0 693.0,326.8" fill="#ff0000"/><polygon points="701.4,342.4 681.5,344.2 681.9,349.6 661.1,340.7 680.1,328.4 680.5,333.8 700.5,332.1" fill="#ff0000"/><polygon points="703.6,341.6 683.9,345.1 684.8,350.4 663.3,343.5 681.2,329.6 682.1,334.9 701.8,331.4" fill="#ff0000"/><polygon points="711.3,348.9 691.3,348.9 691.3,354.3 671.3,343.7 691.3,333.1 691.3,338.5 711.3,338.5" fill="#ff0000"/><polygon points="729.2,328.5 709.2,329.2 709.4,334.6 689.0,324.7 708.6,313.4 708.8,318.8 728.8,318.1" fill="#ff0000"/><polygon points="737.2,328.2 717.2,328.2 717.2,333.6 697.2,323.0 717.2,312.4 717.2,317.8 737.2,317.8" fill="#ff0000"/><polygon points="746.0,328.5 726.0,328.5 726.0,333.9 706.0,323.3 726.0,312.7 726.0,318.1 746.0,318.1" fill="#ff0000"/><polygon points="754.6,338.3 734.6,338.3 734.6,343.7 714.6,333.1 734.6,322.5 734.6,327.9 754.6,327.9" fill="#ff0000"/><polygon points="764.8,348.0 744.8,348.7 745.0,354.1 724.6,344.2 744.2,332.9 744.4,338.3 764.4,337.6" fill="#ff0000"/><polygon points="772.7,348.0 752.7,348.7 752.9,354.1 732.5,344.2 752.1,332.9 752.3,338.3 772.3,337.6" fill="#ff0000"/><polygon points="775.4,355.4 755.5,357.2 755.9,362.6 735.1,353.7 754.1,341.4 754.5,346.8 774.5,345.1" fill="#ff0000"/><polygon points="783.6,357.6 763.9,361.1 764.8,366.4 743.3,359.5 761.2,345.6 762.1,350.9 781.8,347.4" fill="#ff0000"/><polygon points="790.0,376.8 774.7,364.0 771.2,368.1 762.7,347.1 784.8,351.9 781.3,356.0 796.7,368.9" fill="#ff0000"/><polygon points="796.4,372.3 782.5,357.9 778.6,361.7 772.3,339.9 793.8,346.9 789.9,350.7 803.8,365.1" fill="#ff0000"/><polygon points="822.5,308.4 802.5,308.4 802.5,313.8 782.5,303.2 802.5,292.6 802.5,298.0 822.5,298.0" fill="#ffff00"/><polygon points="809.4,336.1 791.0,328.3 788.9,333.3 774.6,315.7 797.1,313.7 795.0,318.7 813.4,326.5" fill="#ff0000"/><polygon points="832.2,318.5 812.2,319.2 812.4,324.6 792.0,314.7 811.6,303.4 811.8,308.8 831.8,308.1" fill="#ff0000"/><polygon points="833.5,335.2 813.9,331.1 812.8,336.4 795.4,321.8 817.2,315.6 816.1,320.9 835.6,325.1" fill="#ff0000"/><polygon points="840.8,332.6 821.1,329.1 820.2,334.4 802.3,320.5 823.8,313.6 822.9,318.9 842.6,322.4" fill="#ff0000"/><polygon points="849.2,318.5 829.2,319.2 829.4,324.6 809.0,314.7 828.6,303.4 828.8,308.8 848.8,308.1" fill="#ff0000"/><polygon points="858.2,318.5 838.2,319.2 838.4,324.6 818.0,314.7 837.6,303.4 837.8,308.8 857.8,308.1" fill="#ff0000"/><polygon points="866.0,318.2 846.0,318.2 846.0,323.6 826.0,313.0 846.0,302.4 846.0,307.8 866.0,307.8" fill="#ff0000"/><polygon points="874.6,318.2 854.6,318.2 854.6,323.6 834.6,313.0 854.6,302.4 854.6,307.8 874.6,307.8" fill="#ff0000"/><polygon points="882.7,318.2 862.7,318.2 862.7,323.6 842.7,313.0 862.7,302.4 862.7,307.8 882.7,307.8" fill="#ff0000"/><polygon points="891.3,328.2 871.3,328.2 871.3,333.6 851.3,323.0 871.3,312.4 871.3,317.8 891.3,317.8" fill="#ff0000"/><polygon points="898.0,345.2 878.7,340.0 877.3,345.2 860.7,329.8 882.7,324.8 881.3,330.0 900.7,335.2" fill="#ff0000"/><polygon points="905.0,351.7 886.2,344.9 884.4,350.0 869.2,333.2 891.6,330.0 889.8,335.1 908.6,342.0" fill="#ff0000"/><polygon points="913.6,355.3 895.1,347.8 893.0,352.8 878.5,335.5 901.0,333.2 898.9,338.2 917.5,345.7" fill="#ff0000"/><polygon points="920.9,357.2 902.8,348.7 900.5,353.6 886.9,335.5 909.5,334.4 907.2,339.3 925.3,347.7" fill="#ff0000"/><polygon points="928.9,357.2 910.8,348.7 908.5,353.6 894.9,335.5 917.5,334.4 915.2,339.3 933.3,347.7" fill="#ff0000"/><polygon points="938.8,345.8 920.3,338.3 918.2,343.3 903.7,326.0 926.2,323.7 924.1,328.7 942.7,336.2" fill="#ff0000"/><polygon points="944.9,316.0 926.5,308.2 924.4,313.2 910.1,295.6 932.6,293.6 930.5,298.6 948.9,306.4" fill="#ffff00"/><polygon points="957.2,304.7 938.4,297.9 936.6,303.0 921.4,286.2 943.8,283.0 942.0,288.1 960.8,295.0" fill="#ffff00"/><polygon points="965.0,314.5 946.2,307.7 944.4,312.8 929.2,296.0 951.6,292.8 949.8,297.9 968.6,304.8" fill="#ffff00"/><polygon points="985.4,307.5 965.4,307.5 965.4,312.9 945.4,302.3 965.4,291.7 965.4,297.1 985.4,297.1" fill="#ffff00"/><polygon points="978.1,319.1 958.1,319.4 958.2,324.8 938.0,314.5 957.8,303.6 957.9,309.0 977.9,308.7" fill="#ff0000"/><polygon points="984.0,319.2 964.0,319.2 964.0,324.6 944.0,314.0 964.0,303.4 964.0,308.8 984.0,308.8" fill="#ff0000"/><polygon points="993.2,319.4 973.2,319.4 973.2,324.8 953.2,314.2 973.2,303.6 973.2,309.0 993.2,309.0" fill="#ff0000"/><polygon points="1002.3,319.4 982.3,319.4 982.3,324.8 962.3,314.2 982.3,303.6 982.3,309.0 1002.3,309.0" fill="#ff0000"/><polygon points="1003.4,313.8 983.4,313.8 983.4,319.2 963.4,308.6 983.4,298.0 983.4,303.4 1003.4,303.4" fill="#ff0000"/><polygon points="1010.7,318.7 990.7,318.7 990.7,324.1 970.7,313.5 990.7,302.9 990.7,308.3 1010.7,308.3" fill="#ff0000"/><polygon points="1012.0,323.7 993.2,316.9 991.4,322.0 976.2,305.2 998.6,302.0 996.8,307.1 1015.6,314.0" fill="#ff0000"/><polygon points="1023.5,331.7 1005.6,322.6 1003.2,327.4 990.2,308.9 1012.8,308.6 1010.4,313.4 1028.2,322.4" fill="#ff0000"/><polygon points="1033.3,337.5 1015.4,328.4 1013.0,333.2 1000.0,314.7 1022.6,314.4 1020.2,319.2 1038.0,328.2" fill="#ff0000"/></g>
<text x="126.3" y="449.5" font-size="16.4" text-anchor="middle" textLength="88.1" lengthAdjust="spacingAndGlyphs" fill="#000">Wednesday</text>
<text x="129" y="473.5" font-size="17.5" text-anchor="middle" textLength="39.5" lengthAdjust="spacingAndGlyphs" fill="#777">25th</text>
<text x="265.6" y="449.5" font-size="16.4" text-anchor="middle" textLength="70.25" lengthAdjust="spacingAndGlyphs" fill="#000">Thursday</text>
<text x="265.9" y="473.5" font-size="17.5" text-anchor="middle" textLength="39.75" lengthAdjust="spacingAndGlyphs" fill="#777">26th</text>
<text x="402.25" y="449.5" font-size="16.4" text-anchor="middle" textLength="47.0" lengthAdjust="spacingAndGlyphs" fill="#000">Friday</text>
<text x="403.1" y="473.5" font-size="17.5" text-anchor="middle" textLength="40.25" lengthAdjust="spacingAndGlyphs" fill="#777">27th</text>
<text x="540" y="449.5" font-size="16.4" text-anchor="middle" font-weight="bold" textLength="71.5" lengthAdjust="spacingAndGlyphs" fill="#000">Saturday</text>
<text x="539.4" y="473.5" font-size="17.5" text-anchor="middle" textLength="40.25" lengthAdjust="spacingAndGlyphs" fill="#777">28th</text>
<text x="676.25" y="449.5" font-size="16.4" text-anchor="middle" font-weight="bold" textLength="59.0" lengthAdjust="spacingAndGlyphs" fill="#000">Sunday</text>
<text x="675.6" y="473.5" font-size="17.5" text-anchor="middle" textLength="40.25" lengthAdjust="spacingAndGlyphs" fill="#777">29th</text>
<text x="810.4" y="449.5" font-size="16.4" text-anchor="middle" textLength="59.75" lengthAdjust="spacingAndGlyphs" fill="#000">Monday</text>
<text x="811.9" y="473.5" font-size="17.5" text-anchor="middle" textLength="40.25" lengthAdjust="spacingAndGlyphs" fill="#777">30th</text>
<text x="948.5" y="449.5" font-size="16.4" text-anchor="middle" textLength="64.5" lengthAdjust="spacingAndGlyphs" fill="#000">Tuesday</text>
<text x="949.75" y="473.5" font-size="17.5" text-anchor="middle" textLength="39.5" lengthAdjust="spacingAndGlyphs" fill="#777">31st</text>
<text transform="translate(20.5,276) rotate(-90)" font-size="23" text-anchor="middle" fill="#000">Wave Height - Metres</text>
<text transform="translate(1059,273) rotate(90)" font-size="23" text-anchor="middle" fill="#000">Wind Speed - Knots</text>
</svg></body></html>
